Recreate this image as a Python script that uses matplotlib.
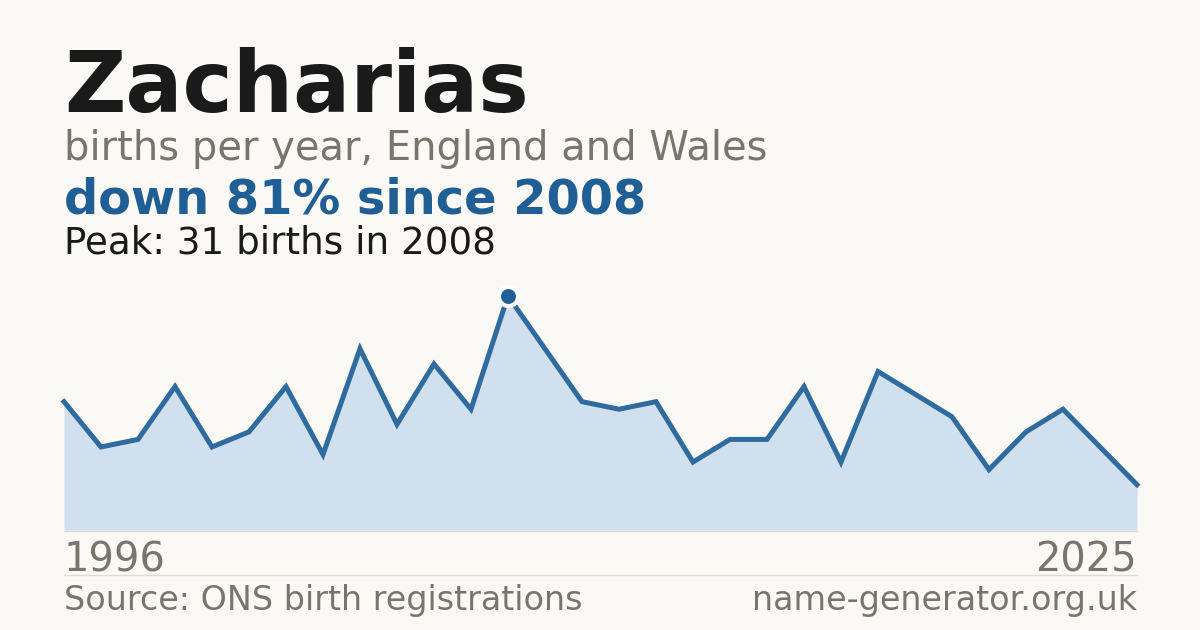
import matplotlib
matplotlib.use('Agg')
import matplotlib.pyplot as plt

# births per year, 1996..2025
years = list(range(1996, 2026))
births = [17, 11, 12, 19, 11, 13, 19, 10, 24, 14, 22, 16, 31, 24, 17, 16,
          17, 9, 12, 12, 19, 9, 21, 18, 15, 8, 13, 16, 11, 6]

name = 'Zacharias'
subtitle = 'births per year, England and Wales'
headline = 'down 81% since 2008'
peak_note = 'Peak: 31 births in 2008'
source = 'Source: ONS birth registrations'
site = 'name-generator.org.uk'

BG = '#faf9f5'
INK = '#1a1a1a'
GREY = '#7a756c'
BLUE = '#1f5f96'
LINE = '#2f6b9f'
FILL = '#d0e0ef'
RULE = '#e0dcd3'

W, H = 1200, 630
fig = plt.figure(figsize=(W / 100, H / 100), dpi=100, facecolor=BG)


def fy(px):
    return 1 - px / H


def fx(px):
    return px / W


fig.text(fx(64), fy(112), name, fontsize=61, fontweight='bold', color=INK, va='baseline')
fig.text(fx(64), fy(160), subtitle, fontsize=28.8, color=GREY, va='baseline')
fig.text(fx(64), fy(214), headline, fontsize=34.5, fontweight='bold', color=BLUE, va='baseline')
fig.text(fx(64), fy(253), peak_note, fontsize=26.8, color=INK, va='baseline')

# chart area
left, right, bottom, top = 64, 1137, 530, 280
ax = fig.add_axes([fx(left), fy(bottom), fx(right - left), (bottom - top) / H])
ax.set_facecolor('none')
ax.fill_between(years, births, 0, color=FILL, lw=0)
ax.plot(years, births, color=LINE, lw=3.6, solid_joinstyle='miter', clip_on=False)
pk = births.index(max(births))
ax.scatter([years[pk]], [births[pk]], s=190, color=BLUE, edgecolors='white',
           linewidths=3, zorder=5, clip_on=False)
ax.set_xlim(years[0], years[-1])
ax.set_ylim(0, max(births) * (bottom - top) / (bottom - 296))
ax.axis('off')

# rules
fig.add_artist(plt.Line2D([fx(left), fx(right)], [fy(530.5), fy(530.5)], color=RULE, lw=1))
fig.add_artist(plt.Line2D([fx(left), fx(right)], [fy(574.5), fy(574.5)], color=RULE, lw=1))

fig.text(fx(64), fy(571), str(years[0]), fontsize=28.8, color=GREY, va='baseline')
fig.text(fx(1137), fy(571), str(years[-1]), fontsize=28.8, color=GREY, va='baseline', ha='right')
fig.text(fx(64), fy(610), source, fontsize=24, color=GREY, va='baseline')
fig.text(fx(1137), fy(610), site, fontsize=24, color=GREY, va='baseline', ha='right')

fig.savefig('out.png', dpi=100, facecolor=BG)
